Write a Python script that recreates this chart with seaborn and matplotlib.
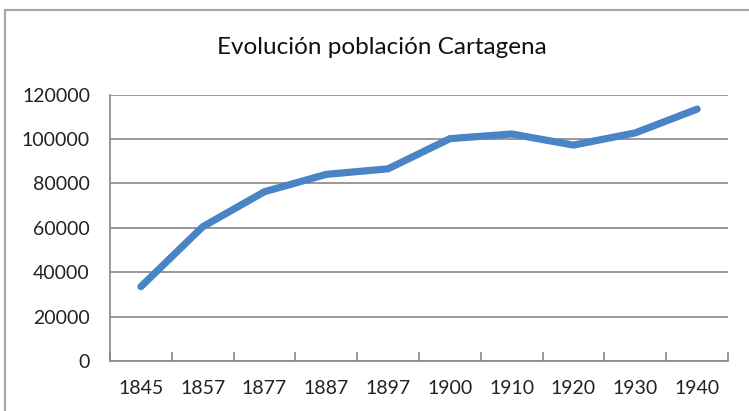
import matplotlib
matplotlib.use("Agg")
import matplotlib.pyplot as plt
from matplotlib.lines import Line2D
from matplotlib.ticker import FixedLocator, NullFormatter
import seaborn as sns
import pandas as pd

# Census years and population of Cartagena
years = ["1845", "1857", "1877", "1887", "1897", "1900", "1910", "1920", "1930", "1940"]
population = [33500, 60500, 76300, 84100, 86600, 100200, 102300, 97300, 102800, 113500]
y_ticks = [0, 20000, 40000, 60000, 80000, 100000, 120000]
title = "Evolución población Cartagena"

sns.set_theme(style="white")
plt.rcParams["font.family"] = ["Lato", "DejaVu Sans"]

df = pd.DataFrame({"year": years, "population": population})
df["pos"] = range(len(years))

W, H = 749, 411
fig = plt.figure(figsize=(W / 100, H / 100), dpi=100)
fig.patch.set_facecolor("white")
ax = fig.add_axes([110 / W, 1 - 361 / H, (728 - 110) / W, (361 - 94.7) / H])

line_color = "#4884c6"
grid_color = "#8a8a8a"
px = 72 / 100  # points per pixel

sns.lineplot(data=df, x="pos", y="population", ax=ax, color=line_color,
             linewidth=7.2 * px, solid_capstyle="round", solid_joinstyle="round")

ax.set_xlim(-0.5, len(years) - 0.5)
ax.set_ylim(0, 120000)
ax.set_xlabel("")
ax.set_ylabel("")

# y axis: gridlines with short outward ticks
ax.set_yticks(y_ticks)
ax.set_yticklabels([str(v) for v in y_ticks])
ax.yaxis.grid(True, color=grid_color, linewidth=1.7 * px)
ax.xaxis.grid(False)
ax.tick_params(axis="y", direction="out", length=7 * px, width=1.7 * px,
               color=grid_color, pad=13 * px, labelsize=14, labelcolor="#222222")

# x axis: labels at category centres, boundary ticks pointing up
ax.set_xticks(range(len(years)))
ax.set_xticklabels(years)
ax.tick_params(axis="x", which="major", direction="out", length=4 * px,
               width=1.7 * px, color=grid_color, pad=15 * px, labelsize=14,
               labelcolor="#222222")
ax.xaxis.set_minor_locator(FixedLocator([i - 0.5 for i in range(len(years) + 1)]))
ax.xaxis.set_minor_formatter(NullFormatter())
ax.tick_params(axis="x", which="minor", direction="in", length=9 * px,
               width=1.7 * px, color=grid_color, bottom=True)

for side in ("top", "right"):
    ax.spines[side].set_visible(False)
for side in ("left", "bottom"):
    ax.spines[side].set_visible(True)
    ax.spines[side].set_color(grid_color)
    ax.spines[side].set_linewidth(1.7 * px)

fig.text(382 / W, 1 - 48 / H, title, ha="center", va="center",
         fontsize=17.5, color="#111111")

# chart area frame
frame_color = "#a8a8a8"
x0, y0 = 5 / W, 1 - 10 / H
fig.add_artist(Line2D([x0, 1.0], [y0, y0], transform=fig.transFigure,
                      color=frame_color, linewidth=2.2 * px))
fig.add_artist(Line2D([x0, x0], [y0, 0.0], transform=fig.transFigure,
                      color=frame_color, linewidth=2.2 * px))

fig.savefig("out.png", dpi=100, facecolor="white")
